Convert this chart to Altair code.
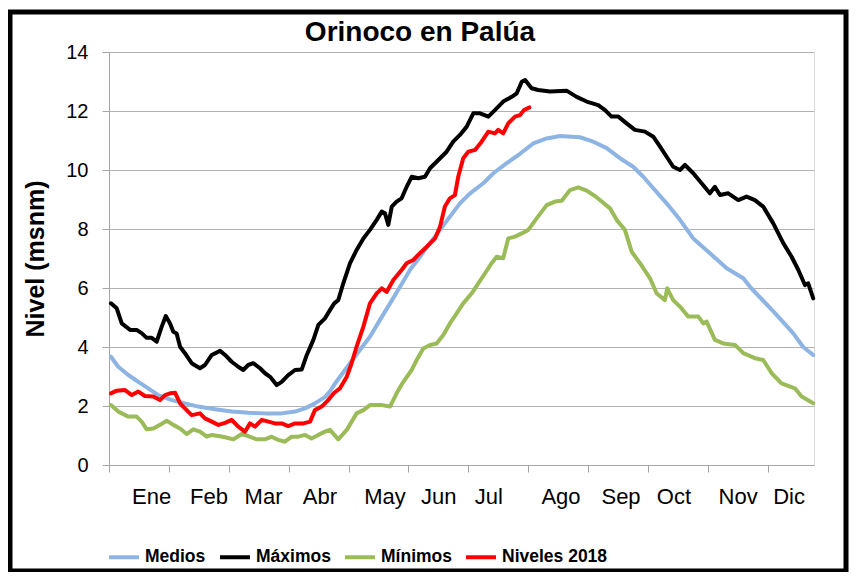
import altair as alt
import pandas as pd

# ---- data (day of year, level in m) ----
max_day = [1, 4.0, 6.6, 10.9, 14.3, 16.9, 19.5, 22.1, 24.7, 27.3, 29.4, 31.6, 33.3, 35.0, 36.8, 39.3, 42.8, 47.1,
           49.7, 53.2, 57.5, 60.1, 63.5, 66.9, 69.5, 72.1, 74.7, 78.2, 80.8, 83.4, 86.8, 89.4, 92.8, 96.3, 99.8,
           102.4, 105.8, 108.4, 111.8, 114.4, 116.6, 118.7, 121.3, 124.8, 128.2, 131.7, 135.1, 138.6, 141.2, 142.9,
           144.6, 146.4, 148.9, 151.5, 154.1, 156.7, 160.1, 163.6, 166.2, 170.5, 174.8, 178.2, 181.7, 185.2, 188.6,
           192.1, 196.4, 199.8, 204.1, 208.5, 211.1, 213.7, 215.4, 218.8, 222.2, 228.3, 236.9, 242.1, 247.3, 253.3,
           256.8, 260.2, 263.7, 268.0, 272.3, 277.5, 281.8, 285.3, 288.7, 292.1, 295.6, 298.2, 302.5, 306.8, 311.1,
           313.7, 316.3, 320.6, 325.8, 330.1, 334.4, 338.7, 343.9, 349.1, 353.4, 356.9, 360.3, 362.0, 364.6]
max_val = [5.48, 5.31, 4.80, 4.58, 4.58, 4.47, 4.31, 4.31, 4.18, 4.69, 5.05, 4.80, 4.52, 4.46, 4.01, 3.79, 3.45, 3.28,
           3.39, 3.73, 3.87, 3.73, 3.50, 3.33, 3.22, 3.39, 3.45, 3.28, 3.11, 2.99, 2.71, 2.82, 3.05, 3.22, 3.24,
           3.73, 4.24, 4.75, 4.97, 5.25, 5.48, 5.59, 6.16, 6.84, 7.29, 7.68, 7.97, 8.31, 8.59, 8.53,
           8.14, 8.76, 8.93, 9.04, 9.43, 9.77, 9.72, 9.77, 10.06, 10.34, 10.62, 10.96, 11.19, 11.47, 11.92,
           11.92, 11.81, 12.03, 12.32, 12.48, 12.60, 12.99, 13.05, 12.77, 12.71, 12.66, 12.69, 12.48, 12.32, 12.20,
           12.03, 11.81, 11.81, 11.58, 11.36, 11.30, 11.13, 10.79, 10.45, 10.11, 10.00, 10.17, 9.89, 9.55, 9.21,
           9.43, 9.15, 9.21, 8.98, 9.10, 8.98, 8.76, 8.19, 7.52, 7.06, 6.61, 6.10, 6.16, 5.65]

med_day = [1, 4.8, 10.0, 15.2, 20.3, 25.5, 32.5, 39.3, 46.2, 54.9, 63.5, 72.1, 80.8, 89.4, 96.3, 101.5, 106.6,
           111.8, 114.4, 116.6, 119.6, 124.8, 129.9, 135.1, 140.3, 145.5, 150.7, 155.8, 161.0, 166.2, 171.4, 176.5,
           181.7, 186.9, 193.8, 199.0, 205.9, 212.8, 219.7, 226.6, 233.5, 243.8, 250.7, 257.7, 264.5, 271.4, 276.6,
           281.8, 288.7, 295.6, 302.5, 311.1, 319.8, 328.4, 332.4, 344.8, 354.3, 359.4, 364.6]
med_val = [3.67, 3.33, 3.05, 2.82, 2.60, 2.37, 2.20, 2.09, 1.98, 1.89, 1.81, 1.77, 1.75, 1.75, 1.81, 1.92, 2.09,
           2.30, 2.50, 2.72, 2.99, 3.45, 3.90, 4.35, 4.92, 5.48, 6.04, 6.61, 7.06, 7.52, 7.97, 8.42,
           8.87, 9.21, 9.55, 9.89, 10.23, 10.55, 10.90, 11.07, 11.15, 11.11, 10.96, 10.74, 10.40, 10.11, 9.77,
           9.38, 8.87, 8.31, 7.68, 7.18, 6.67, 6.33, 6.00, 5.15, 4.46, 4.00, 3.73]

min_day = [1, 4.8, 10.0, 14.3, 16.9, 19.5, 22.9, 26.4, 29.9, 33.3, 36.8, 40.2, 43.6, 47.1, 50.6, 53.2, 56.6, 60.1,
           64.4, 68.7, 72.1, 76.5, 80.8, 84.2, 87.6, 91.1, 94.6, 98.0, 101.5, 104.9, 108.4, 111.8, 114.4, 118.7,
           123.1, 128.2, 131.7, 135.1, 141.2, 145.5, 148.9, 152.4, 156.7, 159.3, 162.7, 166.2, 169.6, 173.1, 176.5,
           180.0, 183.4, 187.8, 191.2, 194.7, 198.1, 200.7, 204.1, 206.7, 210.2, 213.7, 217.1, 221.4, 226.6, 230.9,
           234.4, 238.7, 243.0, 247.3, 251.6, 255.9, 259.4, 262.8, 267.1, 270.6, 274.9, 280.1, 283.5, 287.8, 289.0,
           292.1, 295.6, 299.9, 305.1, 307.7, 309.4, 313.7, 318.0, 324.1, 328.4, 334.4, 338.7, 343.1, 348.2, 355.1,
           358.6, 364.6]
min_val = [2.03, 1.81, 1.64, 1.64, 1.47, 1.21, 1.24, 1.36, 1.50, 1.36, 1.24, 1.05, 1.21, 1.13, 0.96, 1.02, 0.98, 0.94,
           0.87, 1.05, 0.98, 0.87, 0.87, 0.96, 0.85, 0.79, 0.96, 0.96, 1.02, 0.90, 1.02, 1.13, 1.19, 0.87,
           1.19, 1.75, 1.86, 2.03, 2.03, 1.98, 2.43, 2.82, 3.22, 3.56, 3.95, 4.07, 4.12, 4.41, 4.80,
           5.14, 5.48, 5.82, 6.16, 6.50, 6.84, 7.06, 7.01, 7.68, 7.74, 7.85, 7.97, 8.36, 8.81, 8.93,
           8.96, 9.32, 9.41, 9.30, 9.12, 8.89, 8.70, 8.31, 7.97, 7.23, 6.84, 6.33, 5.82, 5.59, 5.99,
           5.59, 5.37, 5.03, 5.03, 4.80, 4.86, 4.24, 4.12, 4.07, 3.79, 3.62, 3.56, 3.11, 2.77, 2.60,
           2.32, 2.09]

n18_day = [1, 4.0, 8.3, 11.8, 15.2, 18.6, 22.9, 26.4, 29.0, 31.6, 34.2, 36.8, 39.3, 42.8, 47.1, 49.7, 53.2, 56.6,
           60.1, 63.5, 66.9, 70.4, 73.0, 75.6, 79.1, 82.5, 85.9, 89.4, 92.8, 96.3, 100.6, 104.1, 106.6, 110.1, 113.5,
           116.6, 119.6, 123.1, 125.6, 128.2, 131.7, 135.1, 138.6, 141.2, 143.8, 147.2, 151.5, 154.1, 157.5, 161.0,
           164.5, 168.8, 171.4, 173.9, 176.5, 179.1, 180.8, 183.4, 186.0, 189.5, 192.9, 196.4, 199.8, 201.5, 204.1,
           206.7, 210.2, 212.8, 214.8, 217.6]
n18_val = [2.43, 2.52, 2.54, 2.37, 2.49, 2.34, 2.32, 2.20, 2.37, 2.43, 2.45, 2.09, 1.92, 1.69, 1.75, 1.58, 1.47, 1.36,
           1.43, 1.53, 1.30, 1.13, 1.41, 1.30, 1.53, 1.47, 1.41, 1.41, 1.32, 1.41, 1.41, 1.47, 1.86, 1.98, 2.20,
           2.45, 2.60, 2.99, 3.45, 4.01, 4.69, 5.48, 5.82, 5.99, 5.87, 6.27, 6.61, 6.84, 6.95, 7.18,
           7.40, 7.68, 8.08, 8.76, 9.04, 9.15, 9.77, 10.40, 10.62, 10.68, 10.96, 11.30, 11.24, 11.36, 11.24,
           11.58, 11.81, 11.86, 12.03, 12.12]

series_names = ["Medios", "Máximos", "Mínimos", "Niveles 2018"]
series_colors = ["#8DB4E2", "#000000", "#9BBB59", "#FF0000"]

month_names = ["Ene", "Feb", "Mar", "Abr", "May", "Jun", "Jul", "Ago", "Sep", "Oct", "Nov", "Dic"]
month_pos = [22.1, 51.8, 80.0, 109.2, 142.9, 170.7, 196.7, 234.0, 265.1, 292.5, 325.7, 352.1]
tick_days = [0, 31, 62, 93, 124, 155, 186, 217, 248, 279, 310, 341]
y_ticks = [0, 2, 4, 6, 8, 10, 12, 14]
title_text = ["Orinoco en Palúa"]

FONT = "Liberation Sans"

frames = []
for name, d, v in zip(series_names, [med_day, max_day, min_day, n18_day], [med_val, max_val, min_val, n18_val]):
    frames.append(pd.DataFrame({"dia": d, "nivel": v, "serie": name}))
df = pd.concat(frames, ignore_index=True)

color = alt.Color(
    "serie:N",
    scale=alt.Scale(domain=series_names, range=series_colors),
    sort=series_names,
    legend=alt.Legend(
        title=None, orient="none", direction="horizontal", legendX=-2, legendY=488,
        symbolType="stroke", symbolSize=900, symbolStrokeWidth=4,
        labelFont=FONT, labelFontSize=17.5, labelFontWeight="bold", labelColor="black",
        columnPadding=6, labelOffset=4,
    ),
)

x = alt.X("dia:Q", scale=alt.Scale(domain=[0, 365], nice=False, zero=False),
          axis=alt.Axis(values=tick_days, labels=False, title=None, grid=False, tickSize=7,
                        tickColor="#A6A6A6", domainColor="#A6A6A6"))
y = alt.Y("nivel:Q", scale=alt.Scale(domain=[0, 14], nice=False),
          axis=alt.Axis(values=y_ticks, title="Nivel (msnm)", grid=True, gridColor="#B3B3B3",
                        tickSize=7, tickColor="#A6A6A6", domainColor="#A6A6A6",
                        labelFont=FONT, labelFontSize=20, labelColor="black", labelPadding=14,
                        titleFont=FONT, titleFontSize=25, titleFontWeight="bold", titleColor="black",
                        titlePadding=17))

layers = []
for name in series_names:
    layers.append(
        alt.Chart(df).transform_filter(alt.datum.serie == name)
        .mark_line(strokeWidth=4, strokeJoin="round", strokeCap="round")
        .encode(x=x, y=y, color=color)
    )

months_df = pd.DataFrame({"mes": month_names, "dia": month_pos})
labels = alt.Chart(months_df).mark_text(font=FONT, fontSize=22, color="black", baseline="middle").encode(
    x=alt.X("dia:Q"), y=alt.value(445), text="mes:N")

title = alt.Chart(pd.DataFrame({"t": title_text})).mark_text(
    font=FONT, fontSize=28, fontWeight="bold", color="black", baseline="middle", align="center"
).encode(x=alt.value(311), y=alt.value(-19), text="t:N")

frame = alt.Chart(pd.DataFrame({"k": [0]})).mark_rect(fill="white", fillOpacity=0, stroke="black", strokeWidth=5).encode(
    x=alt.value(-99), x2=alt.value(737), y=alt.value(-40), y2=alt.value(519))

chart = alt.layer(*layers, labels, title, frame).properties(
    width=705, height=413,
    autosize=alt.AutoSizeParams(type="none"),
    padding={"left": 101, "top": 44, "right": 35, "bottom": 107},
).configure_view(stroke=None).configure(background="white")

chart.save("out.html", embed_options={"renderer": "svg", "actions": False})
